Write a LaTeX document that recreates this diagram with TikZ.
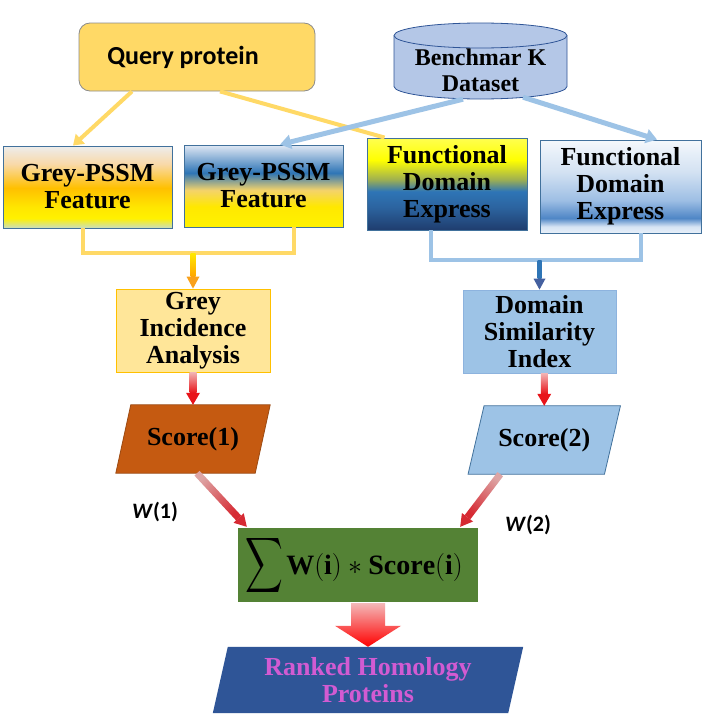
\RequirePackage{fix-cm}
\documentclass[tikz,border=0pt]{standalone}
\usepackage{amsmath}
\usepackage{fontspec}
\usepackage{graphicx}
\setmainfont{Liberation Serif}
\newfontfamily\carlito{Carlito}
\usetikzlibrary{calc,arrows.meta}

\definecolor{qfill}{HTML}{FFD966}
\definecolor{qborder}{HTML}{8C8C8C}
\definecolor{ylw}{HTML}{FFD966}
\definecolor{cylfill}{HTML}{B4C7E7}
\definecolor{cylborder}{HTML}{2F5597}
\definecolor{lblue}{HTML}{9DC3E6}
\definecolor{boxborder}{HTML}{41719C}
\definecolor{giafill}{HTML}{FFE699}
\definecolor{giaborder}{HTML}{FFC000}
\definecolor{dsifill}{HTML}{9DC3E6}
\definecolor{dsiborder}{HTML}{8DB3DE}
\definecolor{sonefill}{HTML}{C55A11}
\definecolor{soneborder}{HTML}{9C4A12}
\definecolor{sumgreen}{HTML}{548235}
\definecolor{rankfill}{HTML}{2F5597}
\definecolor{ranktext}{HTML}{D25BD2}
\definecolor{redlight}{HTML}{F2B2B2}
\definecolor{redmain}{HTML}{E8141A}
\definecolor{reddiag}{HTML}{D62A33}
\definecolor{pinkdiag}{HTML}{DDA5A5}
\definecolor{ytop}{HTML}{FFE800}
\definecolor{ybot}{HTML}{FFA500}
\definecolor{yhead}{HTML}{F9A11B}
\definecolor{bdown}{HTML}{2E75B6}
\definecolor{bhead}{HTML}{44609F}
\definecolor{blockpink}{HTML}{F4B8B8}
\definecolor{blockmid}{HTML}{FF3A3A}
\definecolor{blockred}{HTML}{FF0000}
% gradient colours
\definecolor{gAa}{HTML}{C9DEC0}
\definecolor{gAb}{HTML}{FFF100}
\definecolor{gAc}{HTML}{FFE700}
\definecolor{gAd}{HTML}{FFC000}
\definecolor{gAe}{HTML}{F9D9A8}
\definecolor{gAf}{HTML}{EDEDED}
\definecolor{gBa}{HTML}{FFF200}
\definecolor{gBb}{HTML}{FFE800}
\definecolor{gBc}{HTML}{F4D36A}
\definecolor{gBd}{HTML}{2E75B6}
\definecolor{gBe}{HTML}{E0E8F4}
\definecolor{fAa}{HTML}{1F3D6E}
\definecolor{fAb}{HTML}{2C64A0}
\definecolor{fAc}{HTML}{2E75B6}
\definecolor{fAd}{HTML}{9FB050}
\definecolor{fAe}{HTML}{FFFF00}
\definecolor{fAf}{HTML}{FFFF50}
\definecolor{fBa}{HTML}{E8F0F9}
\definecolor{fBb}{HTML}{D6E4F4}
\definecolor{fBc}{HTML}{4F86C6}
\definecolor{fBd}{HTML}{9DBEE4}
\definecolor{fBe}{HTML}{D2E1F2}
\definecolor{fBf}{HTML}{F4F8FC}

\pgfdeclareverticalshading{gpone}{100bp}{color(0bp)=(gAa); color(25bp)=(gAa); color(31bp)=(gAb); color(37.5bp)=(gAc); color(49.5bp)=(gAd); color(64bp)=(gAe); color(75bp)=(gAf); color(100bp)=(gAf)}
\pgfdeclareverticalshading{gptwo}{100bp}{color(0bp)=(gBa); color(25bp)=(gBa); color(37.5bp)=(gBb); color(47.5bp)=(gBc); color(58bp)=(gBd); color(75bp)=(gBe); color(100bp)=(gBe)}
\pgfdeclareverticalshading{fdone}{100bp}{color(0bp)=(fAa); color(25bp)=(fAa); color(37.5bp)=(fAb); color(46bp)=(fAc); color(52.5bp)=(fAd); color(63bp)=(fAe); color(75bp)=(fAf); color(100bp)=(fAf)}
\pgfdeclareverticalshading{fdtwo}{100bp}{color(0bp)=(fBa); color(25bp)=(fBa); color(28.5bp)=(fBb); color(33bp)=(fBc); color(42.5bp)=(fBd); color(57.5bp)=(fBe); color(75bp)=(fBf); color(100bp)=(fBf)}

\pgfdeclarelayer{bg}
\pgfsetlayers{bg,main}

% gradient arrow: start, end, body half width, head half width, head length, body shading options, head options
\newcommand{\gradarrow}[7]{%
  \coordinate (gah) at ($(#2)!#5!(#1)$);
  \shade[#6] ($(#1)!#3!90:(#2)$) -- ($(gah)!#3!-90:(#1)$) -- ($(gah)!#3!90:(#1)$) -- ($(#1)!#3!-90:(#2)$) -- cycle;
  \fill[#7] ($(gah)!#4!90:(#2)$) -- (#2) -- ($(gah)!#4!-90:(#2)$) -- cycle;
}

\tikzset{
  lbl/.style={font=\fontsize{26}{27}\selectfont\bfseries, align=center, inner sep=0pt},
  featbox/.style={draw=boxborder, line width=0.9pt, shade},
  yline/.style={draw=ylw, line width=4pt},
  bline/.style={draw=lblue, line width=5pt},
  wlbl/.style={font=\carlito\bfseries\fontsize{22}{22}\selectfont, inner sep=0pt},
}

\begin{document}
\begin{tikzpicture}[x=1pt,y=-1pt]
\useasboundingbox (0,0) rectangle (706,720);
\begin{pgfonlayer}{bg}
  \fill[white] (0,0) rectangle (706,720);
\end{pgfonlayer}

% ---- top nodes
\node[draw=qborder, fill=qfill, rounded corners=11pt, line width=0.8pt,
      minimum width=236pt, minimum height=68pt, inner sep=0pt,
      font=\carlito\bfseries\fontsize{26}{27}\selectfont] (query) at (197,57) {\hspace*{-28pt}Query protein};

\node[minimum width=173pt, minimum height=76pt, inner sep=0pt] (bench) at (480.5,61) {};
\begin{pgfonlayer}{bg}
  \filldraw[fill=cylfill, draw=cylborder, line width=0.8pt]
    (394,35.5) -- (394,86.5) arc[start angle=180, end angle=360, x radius=86.5pt, y radius=12.5pt]
    -- (567,35.5) arc[start angle=0, end angle=180, x radius=86.5pt, y radius=12.5pt] -- cycle;
  \draw[cylborder, line width=0.8pt] (394,35.5) arc[start angle=180, end angle=360, x radius=86.5pt, y radius=12.5pt];
\end{pgfonlayer}
\node[lbl, font=\fontsize{24}{26}\selectfont\bfseries] (benchtxt) at (480.5,70) {Benchmar K\\Dataset};

% ---- feature boxes
\node[featbox, shading=gpone, minimum width=169pt, minimum height=82pt, lbl] (gp1) at (87.5,187) {Grey-PSSM\\Feature};
\node[featbox, shading=gptwo, minimum width=159pt, minimum height=82pt, lbl] (gp2) at (263.5,186) {Grey-PSSM\\Feature};
\node[featbox, shading=fdone, minimum width=160pt, minimum height=92pt, lbl] (fd1) at (447,184) {Functional\\Domain\\Express};
\node[featbox, shading=fdtwo, minimum width=161pt, minimum height=93pt, lbl] (fd2) at (620.5,186.5) {Functional\\Domain\\Express};

% ---- analysis boxes
\node[lbl, fill=giafill, draw=giaborder, line width=0.8pt, minimum width=154pt, minimum height=83pt] (gia) at (193,330.5) {Grey\\Incidence\\Analysis};
\node[lbl, fill=dsifill, draw=dsiborder, line width=0.8pt, minimum width=153pt, minimum height=83pt] (dsi) at (539.5,331.5) {Domain\\Similarity\\Index};

% ---- scores (parallelograms)
\node[lbl, minimum width=139pt, minimum height=68pt] (s1) at (193,439) {Score(1)};
\node[lbl, minimum width=136pt, minimum height=68pt] (s2) at (544.25,440) {Score(2)};
\begin{pgfonlayer}{bg}
  \filldraw[fill=sonefill, draw=soneborder, line width=0.8pt]
    ([xshift=7.5pt]s1.north west) -- ([xshift=7.5pt]s1.north east) -- ([xshift=-7.5pt]s1.south east) -- ([xshift=-7.5pt]s1.south west) -- cycle;
  \filldraw[fill=dsifill, draw=boxborder, line width=0.8pt]
    ([xshift=8pt]s2.north west) -- ([xshift=8pt]s2.north east) -- ([xshift=-8pt]s2.south east) -- ([xshift=-8pt]s2.south west) -- cycle;
\end{pgfonlayer}

% ---- sum
\node[fill=sumgreen, minimum width=240pt, minimum height=74pt, inner sep=0pt] (sum) at (358,565)
  {\hspace*{-8pt}{\fontsize{36}{36}\selectfont\raisebox{-4pt}{\scalebox{1.05}[1.55]{$\displaystyle\sum$}}}\,\,{\fontsize{28}{28}\selectfont$\mathbf{W(i)}*\mathbf{Score(i)}$}};

% ---- ranked
\node[lbl, text=ranktext, minimum width=295pt, minimum height=66pt] (ranked) at (368,680) {Ranked Homology\\Proteins};
\begin{pgfonlayer}{bg}
  \fill[rankfill]
    ([xshift=7.5pt]ranked.north west) -- ([xshift=7.5pt]ranked.north east) -- ([xshift=-7.5pt]ranked.south east) -- ([xshift=-7.5pt]ranked.south west) -- cycle;
\end{pgfonlayer}

% ---- weight labels
\node[wlbl] (w1) at (155,512) {\textit{W}(1)};
\node[wlbl] (w2) at (528,525) {\textit{W}(2)};

% ---- connectors from query / benchmark
\draw[yline, -{Triangle[width=13pt,length=10pt]}] ([xshift=-65pt]query.south) -- ([xshift=-14.5pt]gp1.north);
\draw[yline] ([xshift=23pt]query.south) -- ([xshift=18pt]fd1.north west);
\draw[bline, -{Triangle[width=14pt,length=11pt]}] ([xshift=-17.5pt]bench.south) -- ([xshift=16.5pt]gp2.north);
\draw[bline, -{Triangle[width=14pt,length=11pt]}] ([xshift=42.5pt,yshift=2pt]bench.south) -- ([xshift=36.5pt]fd2.north);

% ---- brackets
\coordinate (lbA) at ([xshift=-4.5pt]gp1.south);
\coordinate (lbB) at ([xshift=30.5pt]gp2.south);
\coordinate (lbM) at ($(lbA)+(0,25)$);
\draw[yline] (lbA) -- (lbM) -| (lbB);
\coordinate (ya) at (lbM -| gia.north);
\gradarrow{ya}{gia.north}{2.5pt}{6.5pt}{12pt}{top color=ytop, bottom color=ybot}{fill=yhead}

\coordinate (bbA) at ([xshift=-16pt]fd1.south);
\coordinate (bbB) at ([xshift=20.5pt]fd2.south);
\coordinate (bbM) at ($(bbA)+(0,30)$);
\draw[draw=lblue, line width=4pt] (bbA) -- (bbM) -| (bbB);
\coordinate (ba) at (bbM -| dsi.north);
\gradarrow{ba}{dsi.north}{2pt}{6pt}{11pt}{top color=bdown, bottom color=bdown}{fill=bhead}

% ---- red arrows
\gradarrow{gia.south}{s1.north}{3.5pt}{7pt}{12pt}{top color=redlight, bottom color=redmain}{fill=redmain}
\coordinate (r2a) at (dsi.south -| s2.north);
\gradarrow{r2a}{s2.north}{3.5pt}{7pt}{12pt}{top color=redlight, bottom color=redmain}{fill=redmain}

\coordinate (d1a) at ([xshift=4pt]s1.south);
\coordinate (d1b) at ([xshift=9pt,yshift=1pt]sum.north west);
\gradarrow{d1a}{d1b}{3.5pt}{7pt}{12pt}{top color=pinkdiag, bottom color=reddiag, shading angle=44}{fill=reddiag}
\coordinate (d2a) at ([xshift=-44pt]s2.south);
\coordinate (d2b) at ([xshift=-18pt,yshift=1pt]sum.north east);
\gradarrow{d2a}{d2b}{3.5pt}{7pt}{12pt}{top color=pinkdiag, bottom color=reddiag, shading angle=-39}{fill=reddiag}

% ---- block arrow
\coordinate (bk) at (sum.south -| ranked.north);
\shade[top color=blockpink, middle color=blockmid, bottom color=blockred]
  ($(bk)+(-17,1)$) -- ($(bk)+(17,1)$) -- ($(ranked.north)+(17,-21)$) -- ($(ranked.north)+(33,-21)$)
  -- (ranked.north) -- ($(ranked.north)+(-33,-21)$) -- ($(ranked.north)+(-17,-21)$) -- cycle;
\end{tikzpicture}
\end{document}
